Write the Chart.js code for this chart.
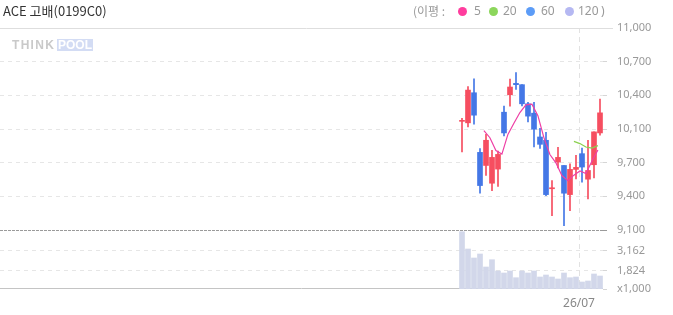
<!DOCTYPE html>
<html><head><meta charset="utf-8">
<script src="https://cdn.jsdelivr.net/npm/chart.js@4"></script>
<style>
body{margin:0;background:#fff;}
#wrap{position:relative;width:673px;height:315px;overflow:hidden;font-family:"Noto Sans","Noto Sans CJK KR",sans-serif;}
#c{position:absolute;left:0;top:0;}
.t{position:absolute;white-space:nowrap;line-height:1;}
.lg{font-size:12px;color:#999;top:5px;}
.dot{position:absolute;top:7px;width:9px;height:9px;border-radius:50%;}
</style></head><body>
<div id="wrap">
<canvas id="c" width="673" height="315"></canvas>
<div class="t" style="left:3px;top:4px;font-size:13px;color:#333;font-family:'Noto Sans CJK KR';">ACE 고배(0199C0)</div>
<div class="t lg" style="left:413px;font-family:'Noto Sans CJK KR';">(이평 :</div>
<div class="dot" style="left:458px;background:#ff3d9e;"></div>
<div class="t lg" style="left:474px;">5</div>
<div class="dot" style="left:489px;background:#8cd65c;"></div>
<div class="t lg" style="left:503px;">20</div>
<div class="dot" style="left:526px;background:#5c9cf7;"></div>
<div class="t lg" style="left:541px;">60</div>
<div class="dot" style="left:565px;background:#b5b8f2;"></div>
<div class="t lg" style="left:578px;">120</div>
<div class="t lg" style="left:601px;">)</div>
<div class="t" style="left:12px;top:39px;font-family:'Liberation Sans';font-weight:bold;font-size:12px;color:#c9c9c9;letter-spacing:1.3px;">THINK</div>
<div class="t" style="left:57px;top:39px;height:12px;width:36px;background:#d3dcf4;"></div>
<div class="t" style="left:58px;top:39px;font-family:'Liberation Sans';font-weight:bold;font-size:12px;color:#fff;">POOL</div>
</div>
<script>
// ---- data ----
const dates = ['26/06/02','26/06/04','26/06/05','26/06/08','26/06/09','26/06/10','26/06/11','26/06/12','26/06/15','26/06/16',
               '26/06/17','26/06/18','26/06/19','26/06/22','26/06/23','26/06/24','26/06/25','26/06/26','26/06/29','26/06/30',
               '26/07/01','26/07/02','26/07/03','26/07/06'];
const opens  = [10122,10108,10391, 9830, 9707, 9540, 9673,10208,10372,10479,10467,10287,10199, 9975, 9944, 9488, 9739, 9707, 9433, 9670, 9818, 9578, 9714,10013];
const highs  = [10150,10448,10521, 9865,10000, 9849, 9843,10265,10520,10580,10467,10300,10300,10057,10019, 9566, 9878, 9707, 9723, 9802, 9871, 9944,10023,10331];
const lows   = [ 9834,10070,10095, 9446, 9613, 9471, 9509, 9985,10265,10423,10268,10117, 9881, 9868, 9424, 9235, 9685, 9140, 9282, 9581, 9550, 9392, 9591, 9991];
const closes = [10128,10416,10180, 9518, 9944, 9783, 9811,10013,10445,10467,10287,10171,10048, 9906, 9433, 9495, 9783, 9446, 9670, 9689, 9692, 9660,10023,10202];
const volumes = [4433,3276,2674,2942,2072,2560,1804,1670,1804,1356,1804,1670,1804,1403,1537,1403,1269,1670,1356,1403,1068,1135,1604,1470]; // thousands
const ma5  = [null,null,null,null,10035, 9968, 9847, 9814, 9999,10104,10205,10277,10284,10176, 9969, 9810, 9732, 9612, 9564, 9616, 9656, 9631, 9747, 9853];
const ma20 = [null,null,null,null,null,null,null,null,null,null,null,null,null,null,null,null,null,null,null, 9933, 9913, 9881, 9871, 9894];
const priceTickLabels = ['9,100','9,400','9,700','10,100','10,400','10,700','11,000'];
const priceMin = 9100, priceMax = 11000;
const volTickValues = [600, 1824, 3162];
const volTickLabels = ['x1,000','1,824','3,162'];
const volMin = 600, volMax = 4547;

// ---- styles ----
const RED = '#f64e60', BLUE = '#4477e6', VOL = '#d2d7ea';
const emptySlots = 77, maShift = -0.35;
const upColor = i => closes[i] >= opens[i] ? RED : BLUE;

const wickData = dates.map((d, i) => ({x: i, y: [lows[i], highs[i]]}));
const bodyData = dates.map((d, i) => ({x: i, y: [opens[i], closes[i]]}));
const volData = dates.map((d, i) => ({x: i, y: volumes[i]}));
const ma5Data = dates.map((d, i) => ({x: i + maShift, y: ma5[i]}));
const ma20Data = dates.map((d, i) => ({x: i + maShift, y: ma20[i]}));

const monthTicks = [];
dates.forEach((d, i) => { if (i > 0 && d.slice(0,5) !== dates[i-1].slice(0,5)) monthTicks.push({value: i - 0.5, label: d.slice(0,5)}); });

const linesPlugin = {
  id: 'lines',
  beforeDatasetsDraw(chart) {
    const {ctx, chartArea: a, scales} = chart;
    ctx.save();
    ctx.lineWidth = 1;
    // top border
    let y = Math.round(scales.y.getPixelForValue(priceMax)) + 0.5;
    ctx.strokeStyle = '#dedede';
    ctx.beginPath(); ctx.moveTo(0, y); ctx.lineTo(a.right + 10, y); ctx.stroke();
    // price / volume separator
    y = Math.round(scales.y.getPixelForValue(priceMin)) + 0.5;
    ctx.strokeStyle = '#9a9a9a';
    ctx.setLineDash([3, 1]);
    ctx.beginPath(); ctx.moveTo(0, y); ctx.lineTo(a.right + 4, y); ctx.stroke();
    ctx.setLineDash([]);
    // volume baseline
    y = Math.round(scales.yv.getPixelForValue(volMin)) - 0.5;
    ctx.strokeStyle = '#c4c4c4';
    ctx.beginPath(); ctx.moveTo(0, y); ctx.lineTo(a.right, y); ctx.stroke();
    ctx.restore();
  }
};

new Chart(document.getElementById('c'), {
  type: 'bar',
  data: {
    datasets: [
      {type: 'line', data: ma5Data, borderColor: '#ee3fa5', borderWidth: 1.2, pointRadius: 0, yAxisID: 'y', order: 0, spanGaps: false},
      {type: 'line', data: ma20Data, borderColor: '#8bd04e', borderWidth: 1.2, pointRadius: 0, yAxisID: 'y', order: 0, spanGaps: false},
      {data: bodyData, yAxisID: 'y', grouped: false, barThickness: 5, minBarLength: 1, borderWidth: 0,
       backgroundColor: c => upColor(c.dataIndex), order: 1},
      {data: wickData, yAxisID: 'y', grouped: false, barThickness: 1, borderWidth: 0,
       backgroundColor: c => upColor(c.dataIndex), order: 2},
      {data: volData, yAxisID: 'yv', grouped: false, barThickness: 5, borderWidth: 0, backgroundColor: VOL, order: 3}
    ]
  },
  options: {
    responsive: false, devicePixelRatio: 1, animation: false,
    layout: {padding: {top: 28, left: 0, right: 0, bottom: 0}},
    plugins: {legend: {display: false}, tooltip: {enabled: false}},
    scales: {
      x: {
        type: 'linear', min: -emptySlots, max: dates.length - 0.5, offset: false,
        afterBuildTicks: s => { s.ticks = monthTicks.map(t => ({value: t.value})); },
        afterFit: s => { s.height = 26; },
        ticks: {autoSkip: false, maxRotation: 0, padding: 7, color: '#888', font: {size: 12, family: 'Noto Sans'},
                callback: (v, i) => monthTicks[i] ? monthTicks[i].label : ''},
        grid: {color: '#e2e2e2', drawTicks: false, offset: false},
        border: {display: false, dash: [5, 4]}
      },
      y: {
        type: 'linear', position: 'right', stack: 'p', stackWeight: 202, min: priceMin, max: priceMax,
        afterBuildTicks: s => { s.ticks = priceTickLabels.map((l, k) => ({value: priceMin + k * (priceMax - priceMin) / (priceTickLabels.length - 1)})); },
        afterFit: s => { s.width = 70; },
        ticks: {autoSkip: false, padding: 10, color: '#999', font: {size: 11, family: 'Noto Sans'},
                callback: (v, i) => priceTickLabels[i]},
        grid: {tickLength: 4,
               color: c => (c.index === 0 || c.index === priceTickLabels.length - 1) ? 'rgba(0,0,0,0)' : '#e6e6e6',
               tickColor: c => c.index === 0 ? '#999' : '#d6d6d6'},
        border: {display: false, dash: [4, 4]}
      },
      yv: {
        type: 'linear', position: 'right', stack: 'p', stackWeight: 59, min: volMin, max: volMax,
        afterBuildTicks: s => { s.ticks = volTickValues.map(v => ({value: v})); },
        afterFit: s => { s.width = 70; },
        ticks: {autoSkip: false, padding: 10, color: '#999', font: {size: 11, family: 'Noto Sans'},
                callback: (v, i) => volTickLabels[i]},
        grid: {tickLength: 4, color: c => c.index === 0 ? 'rgba(0,0,0,0)' : '#e6e6e6', tickColor: '#d6d6d6'},
        border: {display: false, dash: [4, 4]}
      }
    }
  },
  plugins: [linesPlugin]
});
</script>
</body></html>
